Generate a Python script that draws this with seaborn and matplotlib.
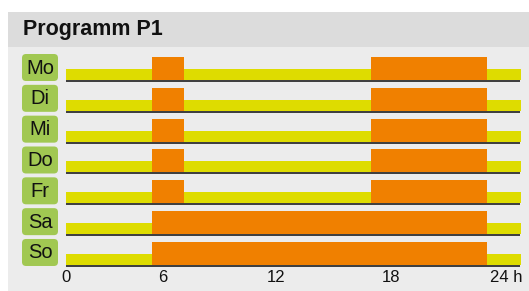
import matplotlib
matplotlib.use("Agg")
import matplotlib.pyplot as plt
from matplotlib.patches import Rectangle, FancyBboxPatch
from matplotlib.transforms import IdentityTransform
import seaborn as sns
import pandas as pd

# ---- data ----
days = ["Mo", "Di", "Mi", "Do", "Fr", "Sa", "So"]
day_length = [24, 24, 24, 24, 24, 24, 24]
# heating "on" periods (hours)
on1_start = [4.54, 4.54, 4.54, 4.54, 4.54, 4.54, 4.54]
on1_end = [6.22, 6.22, 6.22, 6.22, 6.22, 22.21, 22.21]
on2_start = [16.09, 16.09, 16.09, 16.09, 16.09, None, None]
on2_end = [22.21, 22.21, 22.21, 22.21, 22.21, None, None]
tick_labels = ["0", "6", "12", "18", "24 h"]
title = "Programm P1"

# ---- style / layout ----
W, H = 529, 291
DPI = 100
YELLOW = "#dedc00"
ORANGE = "#f08000"
GREEN = "#a1c852"
BAND = "#dcdcdc"
PANEL = "#ececec"
FONT = "Liberation Sans"

sns.set_theme(style="white")
plt.rcParams["font.family"] = [FONT, "DejaVu Sans"]

fig = plt.figure(figsize=(W / DPI, H / DPI), dpi=DPI, facecolor="white")


def fy(py):
    return 1 - py / H


# background band + panel
fig.add_artist(Rectangle((8 / W, fy(47)), 1, (47 - 12) / H, transform=fig.transFigure,
                         facecolor=BAND, edgecolor="none", zorder=0))
fig.add_artist(Rectangle((8 / W, 0), 1, fy(47), transform=fig.transFigure,
                         facecolor=PANEL, edgecolor="none", zorder=0))
fig.text(23 / W, fy(29), title, fontsize=15.5, fontweight="bold", color="#111111",
         ha="left", va="center")

pitch = 30.83
yellow_h = 11 / pitch
orange_h = 23 / pitch
half = yellow_h / 2

ax_left, ax_right = 66, 521
ax_top, ax_bot = 50, 268
ax = fig.add_axes([ax_left / W, fy(ax_bot), (ax_right - ax_left) / W, (ax_bot - ax_top) / H])
ax.set_facecolor("none")

df = pd.DataFrame({"day": days, "len": day_length})
sns.barplot(data=df, x="len", y="day", orient="h", color=YELLOW, saturation=1,
            width=yellow_h, linewidth=0, ax=ax)

for i in range(len(days)):
    base = i + half
    ax.barh(base, on1_end[i] - on1_start[i], left=on1_start[i], height=-orange_h,
            align="edge", color=ORANGE, linewidth=0, zorder=3)
    if on2_start[i] is not None:
        ax.barh(base, on2_end[i] - on2_start[i], left=on2_start[i], height=-orange_h,
                align="edge", color=ORANGE, linewidth=0, zorder=3)
    ax.hlines(base + 1.0 / pitch, 0, 23.95, color="#2e2e2e", linewidth=1.3, zorder=4)

# limits: row bottom i+half at pixel 80 + pitch*i
def data_y(py):
    return (py - 80) / pitch + half

ax.set_ylim(data_y(ax_bot), data_y(ax_top))
ax.set_xlim(0, 24)
tick_pos = [0.0, 5.12, 11.1, 17.15, 23.2]
ax.set_xticks(tick_pos, tick_labels)
ax.tick_params(axis="x", length=0, pad=1.5, labelsize=12, colors="#111111")
ax.set_yticks([])
ax.set_xlabel("")
ax.set_ylabel("")
for s in ax.spines.values():
    s.set_visible(False)

# day labels in green rounded boxes
fig.canvas.draw()
for i, d in enumerate(days):
    bottom_px = 80 + pitch * i
    top = bottom_px - 26
    h = 27
    box = FancyBboxPatch((22, H - (top + h)), 36, h,
                         boxstyle="round,pad=0,rounding_size=4",
                         transform=IdentityTransform(), facecolor=GREEN,
                         edgecolor="none", zorder=2)
    fig.add_artist(box)
    fig.text(40 / W, fy(top + h / 2 + 0.5), d, fontsize=14.5, color="#111111",
             ha="center", va="center", zorder=3)

fig.savefig("out.png", dpi=DPI, facecolor="white")
